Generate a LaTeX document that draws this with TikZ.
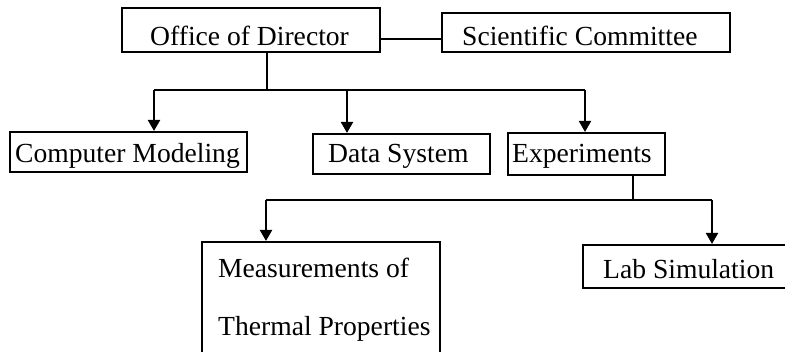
\documentclass[tikz,border=0pt]{standalone}
\usepackage{fontspec}
\setmainfont{Liberation Serif}
\usetikzlibrary{arrows.meta}
\begin{document}
\begin{tikzpicture}[x=1pt,y=-1pt,
  box/.style={draw, line width=2.1pt, rectangle, inner sep=0pt},
  lbl/.style={anchor=base west, inner sep=0pt, font=\fontsize{27.6}{32}\selectfont},
  link/.style={line width=2.1pt},
  arr/.style={line width=2.1pt, -{Triangle[width=12pt,length=11pt]}}]
\useasboundingbox (0,0) rectangle (785,351);

% boxes (centre, width, height)
\node[box, minimum width=258pt, minimum height=44pt] (office) at (251,30) {};
\node[box, minimum width=288pt, minimum height=39pt] (sci)    at (586,32.5) {};
\node[box, minimum width=237pt, minimum height=40pt] (cm)     at (128.5,152) {};
\node[box, minimum width=177pt, minimum height=40pt] (ds)     at (401.5,154) {};
\node[box, minimum width=157pt, minimum height=42pt] (exp)    at (586.5,154) {};
\node[box, minimum width=238pt, minimum height=120pt] (meas)  at (321,302) {};
\node[box, minimum width=230pt, minimum height=43pt] (lab)    at (698,266.5) {};

% texts
\node[lbl] (officeT) at (150,45) {Office of Director};
\node[lbl] (sciT)    at (462,45) {Scientific Committee};
\node[lbl] (cmT)     at (15,162) {Computer Modeling};
\node[lbl] (dsT)     at (328,162) {Data System};
\node[lbl] (expT)    at (512,162) {Experiments};
\node[lbl] (measT)   at (218,277) {Measurements of};
\node[lbl] (measT2)  at (218,335) {Thermal Properties};
\node[lbl] (labT)    at (603,278) {Lab Simulation};

% director to committee
\draw[link] ([yshift=-9pt]office.east) -- ([yshift=-6.5pt]sci.west);

% director to the three groups
\coordinate (j1) at (267,90);
\coordinate (b1) at (154,90);
\coordinate (b2) at (347,90);
\coordinate (b3) at (585,90);
\draw[link] (office.south -| j1) -- (j1);
\draw[link] (b1) -- (b3);
\draw[arr] (b1) -- (b1 |- cm.north);
\draw[arr] (b2) -- (b2 |- ds.north);
\draw[arr] (b3) -- (b3 |- exp.north);

% experiments to its two branches
\coordinate (j2) at (633,200);
\coordinate (c1) at (266,200);
\coordinate (c2) at (712,200);
\draw[link] (exp.south -| j2) -- (j2);
\draw[link] (c1) -- (c2);
\draw[arr] (c1) -- (c1 |- meas.north);
\draw[arr] (c2) -- (c2 |- lab.north);
\end{tikzpicture}
\end{document}
